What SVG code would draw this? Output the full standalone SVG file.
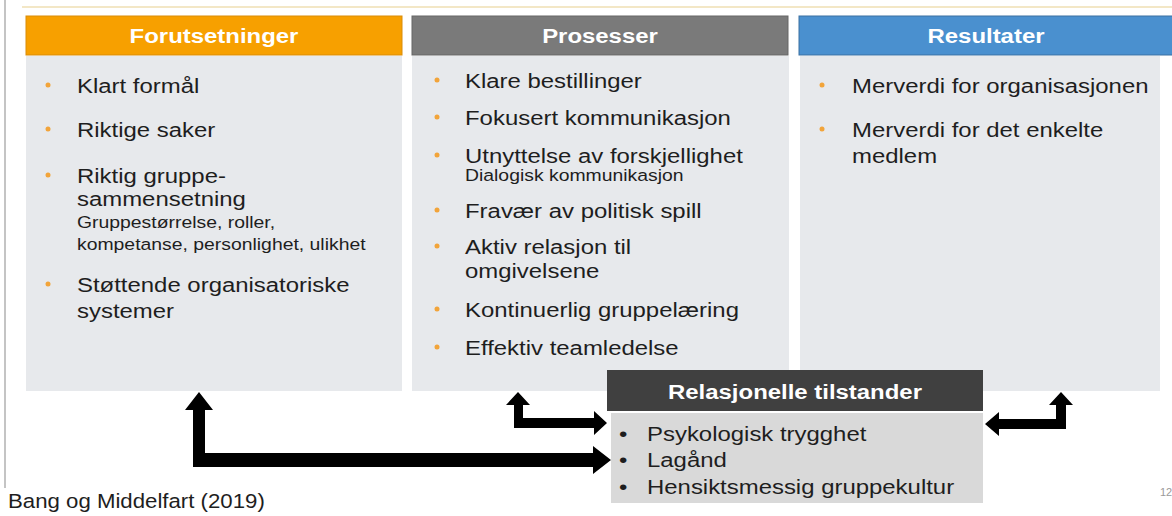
<svg xmlns="http://www.w3.org/2000/svg" width="1172" height="516" viewBox="0 0 1172 516">
<style>
.hd{font-family:"Liberation Sans",Arial,sans-serif;font-weight:bold;font-size:21px;fill:#fff;text-anchor:middle}
.t{font-family:"Liberation Sans",Arial,sans-serif;font-size:21px;fill:#1e1e1e}
.s{font-family:"Liberation Sans",Arial,sans-serif;font-size:17px;fill:#1e1e1e}
.body{fill:#e7e9ec}
.dot{fill:#f2a43a}
.arrow{fill:#000}
</style>
<rect width="1172" height="516" fill="#fff"/>
<line x1="22" y1="7" x2="1172" y2="7" stroke="#f3e7c6" stroke-width="2"/>
<line x1="5" y1="0" x2="5" y2="488" stroke="#c4c4c4" stroke-width="2"/>

<g id="forutsetninger">
<rect class="body" x="26" y="56" width="376" height="335"/>
<rect x="26" y="16" width="376" height="39" fill="#f7a000" stroke="#d98c08" stroke-width="1"/>
<g transform="translate(214 0) scale(1.14 1)"><text class="hd" x="0" y="43">Forutsetninger</text></g>
<circle class="dot" cx="48" cy="85" r="2.5"/>
<circle class="dot" cx="48" cy="129" r="2.5"/>
<circle class="dot" cx="48" cy="175" r="2.5"/>
<circle class="dot" cx="48" cy="284" r="2.5"/>
<g transform="translate(77 0) scale(1.14 1)">
<text class="t" x="0" y="93">Klart formål</text>
<text class="t" x="0" y="137">Riktige saker</text>
<text class="t" x="0" y="183">Riktig gruppe-</text>
<text class="t" x="0" y="206">sammensetning</text>
<text class="s" x="0" y="228">Gruppestørrelse, roller,</text>
<text class="s" x="0" y="250">kompetanse, personlighet, ulikhet</text>
<text class="t" x="0" y="292">Støttende organisatoriske</text>
<text class="t" x="0" y="318">systemer</text>
</g>
</g>

<g id="prosesser">
<rect class="body" x="412" y="56" width="377" height="335"/>
<rect x="412" y="16" width="376" height="39" fill="#7a7a7a" stroke="#666" stroke-width="1"/>
<g transform="translate(600 0) scale(1.14 1)"><text class="hd" x="0" y="43">Prosesser</text></g>
<circle class="dot" cx="437" cy="80" r="2.5"/>
<circle class="dot" cx="437" cy="117" r="2.5"/>
<circle class="dot" cx="437" cy="155" r="2.5"/>
<circle class="dot" cx="437" cy="210" r="2.5"/>
<circle class="dot" cx="437" cy="246" r="2.5"/>
<circle class="dot" cx="437" cy="309" r="2.5"/>
<circle class="dot" cx="437" cy="347" r="2.5"/>
<g transform="translate(465 0) scale(1.14 1)">
<text class="t" x="0" y="88">Klare bestillinger</text>
<text class="t" x="0" y="125">Fokusert kommunikasjon</text>
<text class="t" x="0" y="163">Utnyttelse av forskjellighet</text>
<text class="s" x="0" y="181">Dialogisk kommunikasjon</text>
<text class="t" x="0" y="218">Fravær av politisk spill</text>
<text class="t" x="0" y="254">Aktiv relasjon til</text>
<text class="t" x="0" y="278">omgivelsene</text>
<text class="t" x="0" y="317">Kontinuerlig gruppelæring</text>
<text class="t" x="0" y="355">Effektiv teamledelse</text>
</g>
</g>

<g id="resultater">
<rect class="body" x="800" y="56" width="360" height="335"/>
<rect x="799" y="16" width="374" height="39" fill="#4a90cf" stroke="#3b70a2" stroke-width="1"/>
<g transform="translate(986 0) scale(1.14 1)"><text class="hd" x="0" y="43">Resultater</text></g>
<circle class="dot" cx="822" cy="85" r="2.5"/>
<circle class="dot" cx="822" cy="129" r="2.5"/>
<g transform="translate(852 0) scale(1.14 1)">
<text class="t" x="0" y="93">Merverdi for organisasjonen</text>
<text class="t" x="0" y="137">Merverdi for det enkelte</text>
<text class="t" x="0" y="163">medlem</text>
</g>
</g>

<g id="relasjonelle">
<rect x="611" y="413" width="372" height="90" fill="#d9d9d9"/>
<rect x="607" y="370" width="376" height="41" fill="#404040"/>
<g transform="translate(795 0) scale(1.14 1)"><text class="hd" x="0" y="399">Relasjonelle tilstander</text></g>
<g transform="translate(619 0) scale(1.14 1)">
<text class="t" x="0" y="441">•</text>
<text class="t" x="0" y="467">•</text>
<text class="t" x="0" y="494">•</text>
</g>
<g transform="translate(647 0) scale(1.14 1)">
<text class="t" x="0" y="441">Psykologisk trygghet</text>
<text class="t" x="0" y="467">Lagånd</text>
<text class="t" x="0" y="494">Hensiktsmessig gruppekultur</text>
</g>
</g>

<g id="connectors">
<polygon class="arrow" points="199,392 213,410 205,410 205,453 593,453 593,446 611,460 593,474 593,467 193,467 193,410 185,410"/>
<polygon class="arrow" points="518,392 530,405 523,405 523,418 594,418 594,411 607,423 594,435 594,428 514,428 514,405 506,405"/>
<polygon class="arrow" points="985,424 999,412 999,419 1056,419 1056,405 1049,405 1061,392 1073,405 1066,405 1066,429 999,429 999,436"/>
</g>

<g id="footer">
<g transform="translate(8 0) scale(1.14 1)"><text x="0" y="508" font-family="'Liberation Sans',Arial,sans-serif" font-size="19.5" fill="#1e1e1e">Bang og Middelfart (2019)</text></g>
<text x="1160" y="496" font-family="'Liberation Sans',Arial,sans-serif" font-size="11" fill="#9a9a9a">12</text>
</g>
</svg>
